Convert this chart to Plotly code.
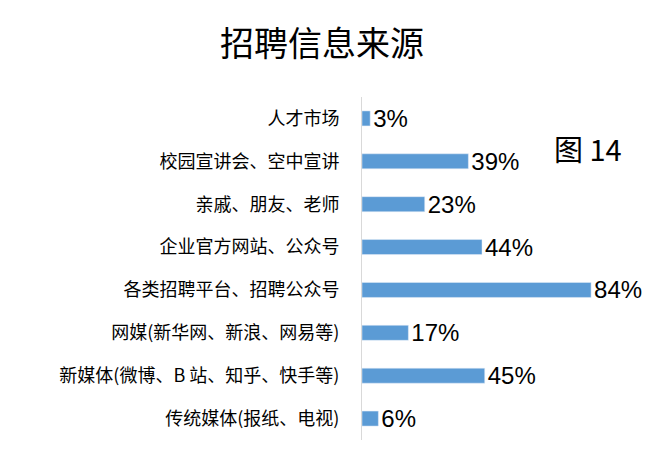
import plotly.graph_objects as go

categories = [
    "人才市场",
    "校园宣讲会、空中宣讲",
    "亲戚、朋友、老师",
    "企业官方网站、公众号",
    "各类招聘平台、招聘公众号",
    "网媒(新华网、新浪、网易等)",
    "新媒体(微博、B 站、知乎、快手等)",
    "传统媒体(报纸、电视)",
]
values = [3, 39, 23, 44, 84, 17, 45, 6]
value_labels = [f"{v}%" for v in values]

fig = go.Figure(
    go.Bar(
        x=values,
        y=categories,
        orientation="h",
        marker=dict(color="#5b9bd5"),
        width=0.35,
        text=value_labels,
        textposition="outside",
        constraintext="none",
        textfont=dict(family="Liberation Sans, Arial, sans-serif", size=24, color="#000000"),
        cliponaxis=False,
    )
)

pw = 664 - 362 - 2
ph = 468 - 97 - 28

fig.update_layout(
    width=664,
    height=468,
    margin=dict(l=362, r=2, t=97, b=28),
    paper_bgcolor="#ffffff",
    plot_bgcolor="#ffffff",
    showlegend=False,
    title=dict(
        text="招聘信息来源",
        x=0.485,
        xanchor="center",
        y=0.905,
        yanchor="middle",
        font=dict(family="Noto Sans CJK SC, sans-serif", size=34, color="#000000"),
    ),
    xaxis=dict(
        range=[0, 110],
        showgrid=False,
        showticklabels=False,
        zeroline=False,
        showline=False,
        ticks="",
    ),
    yaxis=dict(
        autorange="reversed",
        showgrid=False,
        showline=True,
        linecolor="#d9d9d9",
        linewidth=1,
        ticks="",
        ticklabelstandoff=18,
        tickfont=dict(family="Noto Sans CJK SC, sans-serif", size=18, color="#000000"),
    ),
    annotations=[
        dict(
            text="图 14",
            x=(588 - 362) / pw,
            y=(468 - 28 - 148) / ph,
            xref="paper",
            yref="paper",
            xanchor="center",
            yanchor="middle",
            showarrow=False,
            font=dict(family="Noto Sans CJK SC, sans-serif", size=29, color="#000000"),
        )
    ],
)

fig.write_html("out.html")
